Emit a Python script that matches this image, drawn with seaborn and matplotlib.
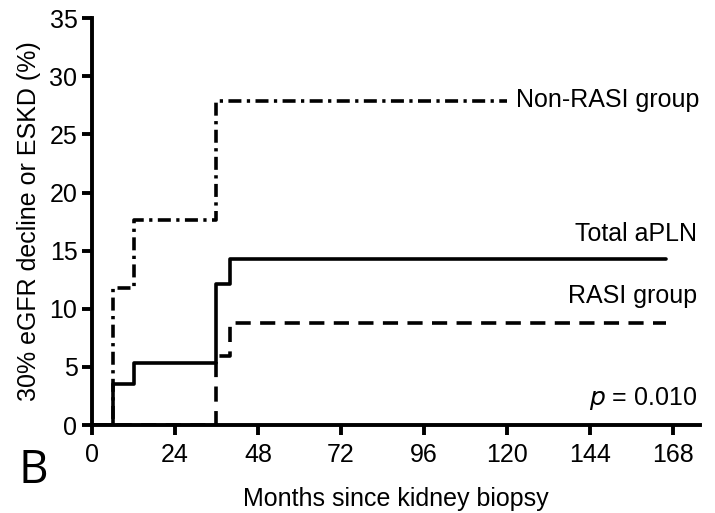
import matplotlib
matplotlib.use("Agg")
import matplotlib.pyplot as plt
import seaborn as sns

# Kaplan-Meier style cumulative incidence (%)
total_months = [0, 6, 12, 36, 40, 166]
total_pct = [0, 3.5, 5.3, 12.1, 14.3, 14.3]

nonrasi_months = [0, 6, 12, 36, 120]
nonrasi_pct = [0, 11.8, 17.6, 27.9, 27.9]

rasi_months = [0, 36, 40, 166]
rasi_pct = [0, 5.9, 8.8, 8.8]

x_ticks = [0, 24, 48, 72, 96, 120, 144, 168]
y_ticks = [0, 5, 10, 15, 20, 25, 30, 35]

sns.set_style("ticks")
plt.rcParams['font.family'] = ['Liberation Sans', 'DejaVu Sans']
plt.rcParams['text.color'] = 'black'
plt.rcParams['axes.labelcolor'] = 'black'

fig = plt.figure(figsize=(7.15, 5.13), dpi=100)
ax = fig.add_axes([0.1287, 0.1715, 0.851, 0.793])

sns.lineplot(x=nonrasi_months, y=nonrasi_pct, drawstyle='steps-post', color='black',
             lw=2.6, ax=ax, linestyle=(0, (3.6, 1.5, 0.9, 1.5)))
sns.lineplot(x=total_months, y=total_pct, drawstyle='steps-post', color='black',
             lw=2.6, ax=ax)
sns.lineplot(x=rasi_months, y=rasi_pct, drawstyle='steps-post', color='black',
             lw=2.6, ax=ax, linestyle=(0, (4.2, 2.6)))

ax.set_xlim(0, 176)
ax.set_ylim(0, 35)
ax.set_xticks(x_ticks)
ax.set_yticks(y_ticks)
ax.tick_params(axis='both', labelsize=18, width=2.8, length=7, direction='out',
               colors='black')
ax.tick_params(axis='x', pad=6)
for side in ['left', 'bottom']:
    ax.spines[side].set_linewidth(2.8)
    ax.spines[side].set_color('black')
sns.despine(ax=ax)
for spine in ax.spines.values():
    spine.set_clip_on(False)

ax.set_xlabel("Months since kidney biopsy", fontsize=18, labelpad=14)
ax.set_ylabel("30% eGFR decline or ESKD (%)", fontsize=18, labelpad=6)

ax.text(122.5, 28.0, "Non-RASI group", fontsize=18, ha='left', va='center')
ax.text(175, 16.4, "Total aPLN", fontsize=18, ha='right', va='center')
ax.text(175, 11.1, "RASI group", fontsize=18, ha='right', va='center')
ax.text(175, 2.3, "$p$ = 0.010", fontsize=18, ha='right', va='center')

fig.text(0.026, 0.058, "B", fontsize=33, family=['Open Sans', 'DejaVu Sans'])

fig.savefig("out.png", dpi=100)
